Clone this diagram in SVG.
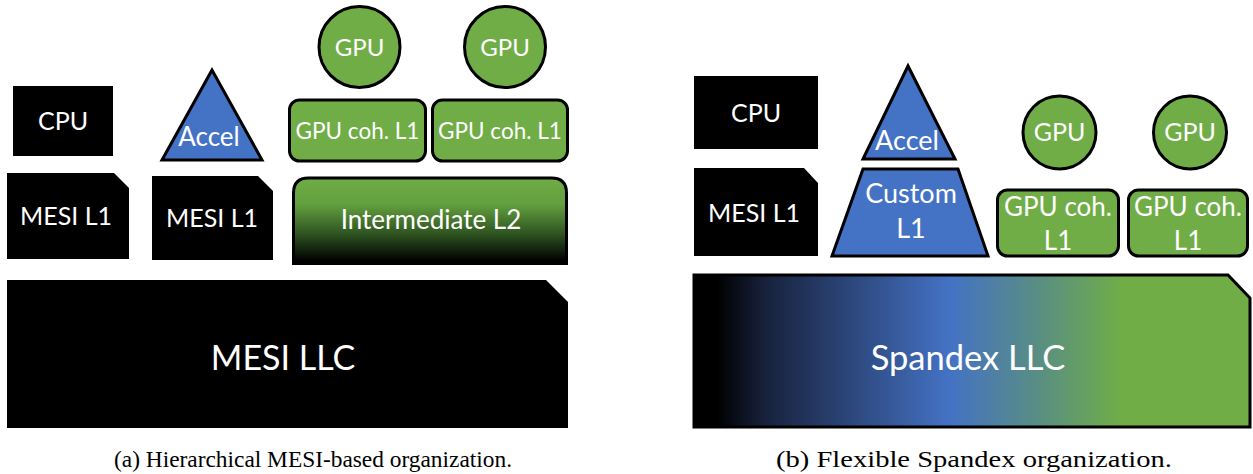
<svg xmlns="http://www.w3.org/2000/svg" width="1253" height="474" viewBox="0 0 1253 474">
<defs>
<style>
.lbl{font-family:Lato,"Open Sans","Liberation Sans",sans-serif;fill:#fff;text-anchor:middle;}
.blk{fill:#000;}
.grn{fill:#70AD47;stroke:#000;stroke-width:3;}
.blu{fill:#4472C4;stroke:#000;stroke-width:3;stroke-linejoin:miter;}
.cap{font-family:"Liberation Serif","DejaVu Serif",serif;font-size:23px;fill:#000;text-anchor:middle;}
</style>
<linearGradient id="l2g" x1="0" y1="0" x2="0" y2="1">
<stop offset="0" stop-color="#70AD47"/>
<stop offset="0.3" stop-color="#63a03e"/>
<stop offset="0.65" stop-color="#2d5220"/>
<stop offset="0.95" stop-color="#000"/>
</linearGradient>
<linearGradient id="spg" x1="694" y1="0" x2="1250" y2="0" gradientUnits="userSpaceOnUse">
<stop offset="0.04" stop-color="#000"/>
<stop offset="0.13" stop-color="#18223d"/>
<stop offset="0.46" stop-color="#4472C4"/>
<stop offset="0.62" stop-color="#598e83"/>
<stop offset="0.77" stop-color="#70AD47"/>
<stop offset="1" stop-color="#70AD47"/>
</linearGradient>
</defs>

<!-- Panel (a) -->
<g id="a-cpu"><rect class="blk" x="13" y="86" width="100" height="70"/><text class="lbl" x="63" y="130" font-size="25">CPU</text></g>
<g id="a-accel"><polygon class="blu" points="212,70 162,160 262,160"/><text class="lbl" x="209" y="146" font-size="26">Accel</text></g>
<g id="a-mesil1-1"><polygon class="blk" points="7,173 114,173 129,188 129,259 7,259"/><text class="lbl" x="66" y="225" font-size="25">MESI L1</text></g>
<g id="a-mesil1-2"><polygon class="blk" points="152,176 258,176 273,191 273,260 152,260"/><text class="lbl" x="212" y="227" font-size="25">MESI L1</text></g>
<g id="a-gpu1"><circle class="grn" cx="359.5" cy="47" r="40.5"/><text class="lbl" x="359.5" y="55.5" font-size="24">GPU</text></g>
<g id="a-gpu2"><circle class="grn" cx="505" cy="47" r="40.5"/><text class="lbl" x="505" y="55.5" font-size="24">GPU</text></g>
<g id="a-gpul1-1"><rect class="grn" x="289.5" y="100" width="136" height="61" rx="10"/><text class="lbl" x="357.5" y="139" font-size="22.5">GPU coh. L1</text></g>
<g id="a-gpul1-2"><rect class="grn" x="432.5" y="100" width="135" height="61" rx="10"/><text class="lbl" x="500" y="139" font-size="22.5">GPU coh. L1</text></g>
<g id="a-l2"><path d="M293.5,265 L293.5,193 Q293.5,178 308.5,178 L551.5,178 Q566.5,178 566.5,193 L566.5,265" fill="url(#l2g)" stroke="#000" stroke-width="3"/><text class="lbl" x="431" y="229" font-size="26">Intermediate L2</text></g>
<g id="a-llc"><polygon class="blk" points="7,280 546,280 568,302 568,428 7,428"/><text class="lbl" x="283" y="370" font-size="34">MESI LLC</text></g>
<text class="cap" x="313" y="467" textLength="398" lengthAdjust="spacingAndGlyphs">(a) Hierarchical MESI-based organization.</text>

<!-- Panel (b) -->
<g id="b-cpu"><rect class="blk" x="694" y="76" width="124" height="73"/><text class="lbl" x="756" y="122" font-size="25">CPU</text></g>
<g id="b-accel"><polygon class="blu" points="908,66 863,159 955,159"/><text class="lbl" x="907" y="149.5" font-size="27">Accel</text></g>
<g id="b-mesil1"><polygon class="blk" points="694,168 804,168 818,183 818,256 694,256"/><text class="lbl" x="754" y="222" font-size="25">MESI L1</text></g>
<g id="b-customl1"><polygon class="blu" points="863,169 958,169 988,256 832,256"/><text class="lbl" x="911" y="202.5" font-size="27">Custom</text><text class="lbl" x="911" y="237.5" font-size="27">L1</text></g>
<g id="b-gpu1"><circle class="grn" cx="1059.5" cy="132.5" r="36.5"/><text class="lbl" x="1059.5" y="141" font-size="25">GPU</text></g>
<g id="b-gpu2"><circle class="grn" cx="1190" cy="132.5" r="36.5"/><text class="lbl" x="1190" y="141" font-size="25">GPU</text></g>
<g id="b-gpul1-1"><rect class="grn" x="997.5" y="190" width="121" height="66" rx="10"/><text class="lbl" x="1058" y="215.5" font-size="26">GPU coh.</text><text class="lbl" x="1058" y="249.5" font-size="26">L1</text></g>
<g id="b-gpul1-2"><rect class="grn" x="1128.5" y="190" width="119" height="66" rx="10"/><text class="lbl" x="1188" y="215.5" font-size="26">GPU coh.</text><text class="lbl" x="1188" y="249.5" font-size="26">L1</text></g>
<g id="b-llc"><polygon points="694,275 1228,275 1250,298 1250,427 694,427" fill="url(#spg)" stroke="#000" stroke-width="3"/><text class="lbl" x="968" y="370" font-size="34.5">Spandex LLC</text></g>
<text class="cap" x="974" y="467" textLength="396" lengthAdjust="spacingAndGlyphs">(b) Flexible Spandex organization.</text>

<g id="connectors"></g>
</svg>
